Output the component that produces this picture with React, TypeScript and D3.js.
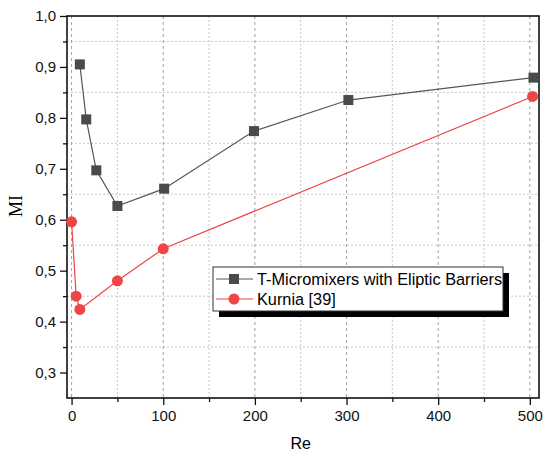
import React, { useEffect, useRef } from 'react'
import * as d3 from 'd3'

const reT = [9, 16, 27, 50, 101, 199, 302, 504]
const miT = [0.905, 0.797, 0.697, 0.627, 0.661, 0.774, 0.835, 0.879]
const reK = [0, 5, 9, 50, 100, 503]
const miK = [0.596, 0.45, 0.424, 0.48, 0.543, 0.842]
const xTicks = [0, 100, 200, 300, 400, 500]
const yTicks = [0.3, 0.4, 0.5, 0.6, 0.7, 0.8, 0.9, 1.0]
const seriesNames = ['T-Micromixers with Eliptic Barriers', 'Kurnia [39]']

const App = () => {
    const ref = useRef<SVGSVGElement>(null)

    useEffect(() => {
        const W = 544
        const H = 455
        const m = { top: 16, right: 5, bottom: 57, left: 67 }
        const w = W - m.left - m.right
        const h = H - m.top - m.bottom
        const font = 'Liberation Sans, Arial, sans-serif'

        const root = d3.select(ref.current)
        root.selectAll('*').remove()
        const svg = root.append('g').attr('transform', `translate(${m.left},${m.top})`)

        const x = d3.scaleLinear().domain([-5, 510]).range([0, w])
        const y = d3.scaleLinear().domain([0.25, 1.0]).range([h, 0])

        // grid
        const xMinor = d3.range(50, 501, 100)
        const yMinor = d3.range(0.35, 1.0, 0.1)
        svg.selectAll('.gy').data(yMinor).enter().append('line')
            .attr('x1', 0).attr('x2', w)
            .attr('y1', d => y(d)).attr('y2', d => y(d))
            .attr('stroke', '#c8c8c8').attr('stroke-dasharray', '2,2')
        svg.selectAll('.gxm').data(xMinor).enter().append('line')
            .attr('x1', d => x(d)).attr('x2', d => x(d))
            .attr('y1', 0).attr('y2', h)
            .attr('stroke', '#c8c8c8').attr('stroke-dasharray', '2,2')
        svg.selectAll('.gx').data(xTicks).enter().append('line')
            .attr('x1', d => x(d)).attr('x2', d => x(d))
            .attr('y1', 0).attr('y2', h)
            .attr('stroke', '#a0a0a0').attr('stroke-dasharray', '3,3')

        // axes
        const fmt = (d: number) => d.toFixed(1).replace('.', ',')
        const yAxis = svg.append('g')
            .call(d3.axisLeft(y).tickValues(yTicks).tickFormat(d => fmt(d as number)).tickSize(7).tickPadding(4))
        const xAxis = svg.append('g').attr('transform', `translate(0,${h})`)
            .call(d3.axisBottom(x).tickValues(xTicks).tickSize(7).tickPadding(5))
        svg.append('g').call(d3.axisLeft(y).tickValues(yMinor).tickFormat(() => '').tickSize(4))
        svg.append('g').attr('transform', `translate(0,${h})`)
            .call(d3.axisBottom(x).tickValues(xMinor).tickFormat(() => '').tickSize(4))
        svg.selectAll('.domain').remove()
        ;[yAxis, xAxis].forEach(a => a.selectAll('text')
            .style('font-family', font).style('font-size', '15px').attr('fill', '#111'))
        svg.selectAll('.tick line').attr('stroke', '#111').attr('stroke-width', 1.3)

        // frame
        svg.append('rect').attr('x', 0).attr('y', 0).attr('width', w).attr('height', h)
            .attr('fill', 'none').attr('stroke', '#111').attr('stroke-width', 1.6)

        // lines
        const black = '#4a4a4a'
        const red = '#f04545'
        const tData = reT.map((r, i) => [r, miT[i]] as [number, number])
        const kData = reK.map((r, i) => [r, miK[i]] as [number, number])
        const line = d3.line<[number, number]>().x(d => x(d[0])).y(d => y(d[1]))

        svg.append('path').datum(kData).attr('d', line)
            .attr('fill', 'none').attr('stroke', red).attr('stroke-width', 1.2)
        svg.append('path').datum(tData).attr('d', line)
            .attr('fill', 'none').attr('stroke', '#555').attr('stroke-width', 1.2)

        svg.selectAll('.k').data(kData).enter().append('circle')
            .attr('cx', d => x(d[0])).attr('cy', d => y(d[1])).attr('r', 5.5)
            .attr('fill', red)
        svg.selectAll('.t').data(tData).enter().append('rect')
            .attr('x', d => x(d[0]) - 5).attr('y', d => y(d[1]) - 5)
            .attr('width', 10).attr('height', 10).attr('fill', black)

        // axis labels
        svg.append('text')
            .attr('transform', `translate(${16 - m.left},${206 - m.top}) rotate(-90)`)
            .attr('text-anchor', 'middle').attr('dominant-baseline', 'central')
            .style('font-family', 'Liberation Serif, Times New Roman, serif').style('font-size', '18px')
            .text('MI')
        svg.append('text')
            .attr('x', x(250)).attr('y', h + 51)
            .attr('text-anchor', 'middle')
            .style('font-family', font).style('font-size', '16px')
            .text('Re')

        // legend
        const lg = svg.append('g').attr('transform', `translate(${213 - m.left},${267 - m.top})`)
        const lw = 290
        const lh = 44
        lg.append('rect').attr('x', 6).attr('y', 6).attr('width', lw).attr('height', lh).attr('fill', '#000')
        lg.append('rect').attr('x', 0).attr('y', 0).attr('width', lw).attr('height', lh)
            .attr('fill', '#fff').attr('stroke', '#333').attr('stroke-width', 1)
        seriesNames.forEach((name, i) => {
            const yy = 12 + i * 20
            lg.append('line').attr('x1', 3).attr('x2', 40).attr('y1', yy).attr('y2', yy)
                .attr('stroke', i === 0 ? '#555' : red).attr('stroke-width', 1.2)
            if (i === 0) {
                lg.append('rect').attr('x', 16).attr('y', yy - 5).attr('width', 10).attr('height', 10).attr('fill', black)
            } else {
                lg.append('circle').attr('cx', 21).attr('cy', yy).attr('r', 5.5).attr('fill', red)
            }
            lg.append('text').attr('x', 44).attr('y', yy).attr('dominant-baseline', 'central')
                .style('font-family', font).style('font-size', '16.3px').attr('fill', '#000')
                .text(name)
        })
    }, [])

    return <svg ref={ref} width={544} height={455} style={{ display: 'block', position: 'absolute', left: 0, top: 0 }} />
}

export default App
